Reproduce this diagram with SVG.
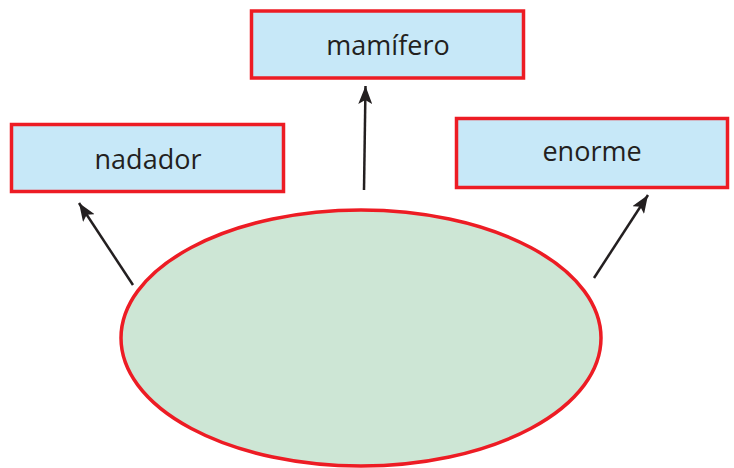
<svg xmlns="http://www.w3.org/2000/svg" width="734" height="468" viewBox="0 0 734 468">
  <style>
    .box { fill: #c7e8f8; stroke: #ed1c24; stroke-width: 3.5; }
    .hub { fill: #cde6d5; stroke: #ed1c24; stroke-width: 3.5; }
    .label { font-family: "Open Sans", "Liberation Sans", sans-serif; font-size: 27px; fill: #231f20; text-anchor: middle; }
    .link { stroke: #231f20; stroke-width: 2.5; fill: none; marker-end: url(#head); }
  </style>
  <defs>
    <marker id="head" markerUnits="userSpaceOnUse" markerWidth="20" markerHeight="14" refX="18" refY="7" orient="auto">
      <path d="M0,0 L18,7 L0,14 L4,7 Z" fill="#231f20"/>
    </marker>
  </defs>
  <rect width="734" height="468" fill="#ffffff"/>

  <g id="center">
    <ellipse class="hub" cx="361" cy="338" rx="240" ry="128"/>
  </g>

  <g id="mamifero">
    <rect class="box" x="251.5" y="11" width="272" height="67"/>
    <text class="label" x="388" y="55">mamífero</text>
  </g>

  <g id="nadador">
    <rect class="box" x="11.5" y="124.5" width="272" height="67"/>
    <text class="label" x="148" y="169">nadador</text>
  </g>

  <g id="enorme">
    <rect class="box" x="456.5" y="118.5" width="271" height="69"/>
    <text class="label" x="592" y="161">enorme</text>
  </g>

  <g id="connectors">
    <line class="link" x1="364" y1="190" x2="365.5" y2="86"/>
    <line class="link" x1="133" y1="285" x2="79" y2="203"/>
    <line class="link" x1="594" y1="278" x2="648" y2="195"/>
  </g>
</svg>
